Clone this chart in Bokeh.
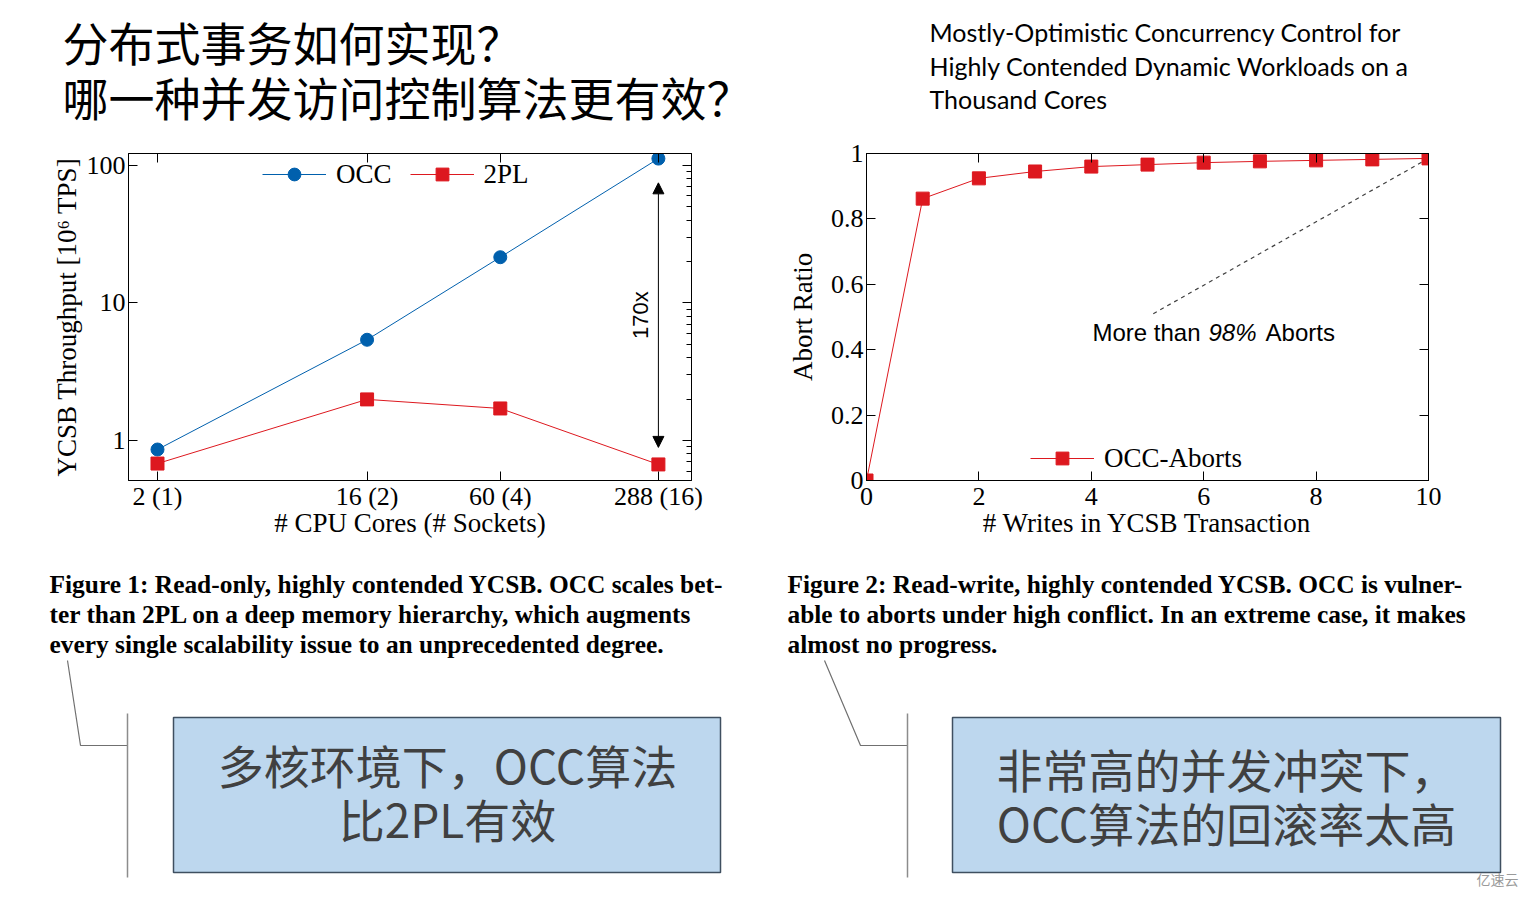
import math
from bokeh.plotting import figure
from bokeh.models import (Range1d, LogAxis, LinearAxis, FixedTicker, LogTicker,
                          CustomJSTickFormatter, Legend, LegendItem, Arrow, NormalHead,
                          Label, ColumnDataSource, Spacer)
from bokeh.layouts import column, row
from bokeh.embed import file_html
from bokeh.resources import INLINE
from bokeh.core.properties import value

# ---------------- data ----------------
cores = [2, 16, 60, 288]
core_labels = ["2 (1)", "16 (2)", "60 (4)", "288 (16)"]
occ_tput = [0.86, 5.4, 21.5, 112]
tpl_tput = [0.68, 1.99, 1.71, 0.67]
tput_ticks = [1, 10, 100]

writes = [0, 1, 2, 3, 4, 5, 6, 7, 8, 9, 10]
occ_aborts = [0.0, 0.862, 0.924, 0.945, 0.960, 0.966, 0.972, 0.976, 0.979, 0.982, 0.985]
write_ticks = [0, 2, 4, 6, 8, 10]
ratio_ticks = [0, 0.2, 0.4, 0.6, 0.8, 1]

title_cn = ["分布式事务如何实现？", "哪一种并发访问控制算法更有效？"]
title_en = ["Mostly-Optimistic Concurrency Control for",
            "Highly Contended Dynamic Workloads on a",
            "Thousand Cores"]
caption1 = ["Figure 1:  Read-only, highly contended YCSB. OCC scales bet-",
            "ter than 2PL on a deep memory hierarchy, which augments",
            "every single scalability issue to an unprecedented degree."]
caption2 = ["Figure 2:  Read-write, highly contended YCSB. OCC is vulner-",
            "able to aborts under high conflict. In an extreme case, it makes",
            "almost no progress."]
box1_text = ["多核环境下，OCC算法", "比2PL有效"]
box2_text = ["非常高的并发冲突下，", "OCC算法的回滚率太高"]

BLUE = "#0060ad"
RED = "#dd181f"
SERIF = "Liberation Serif"
SANS = "Liberation Sans"
CJK = "Noto Sans CJK SC"

fmt = CustomJSTickFormatter(code="return String(tick)")


def style_axis(ax, labels=True, standoff=3):
    ax.axis_line_color = "black"
    ax.major_tick_line_color = "black"
    ax.major_tick_in = 9
    ax.major_tick_out = 0
    ax.minor_tick_in = 0
    ax.minor_tick_out = 0
    ax.major_label_text_font = SERIF
    ax.major_label_text_color = "black"
    ax.axis_label_text_font = SERIF
    ax.axis_label_text_font_style = "normal"
    ax.axis_label_text_font_size = "27px"
    ax.axis_label_text_color = "black"
    if labels:
        ax.major_label_text_font_size = "26px"
        ax.major_label_standoff = standoff
    else:
        ax.major_label_text_font_size = "1px"
        ax.major_label_text_alpha = 0
        ax.major_label_standoff = 0


def blank(width, height):
    f = figure(width=width, height=height, x_range=Range1d(0, width), y_range=Range1d(height, 0),
               x_axis_type=None, y_axis_type=None, output_backend="svg", toolbar_location=None,
               min_border=0)
    f.grid.visible = False
    f.outline_line_color = None
    f.background_fill_color = "white"
    f.border_fill_color = "white"
    return f


# ---------------- top titles ----------------
top = blank(1518, 120)
top.text(x=[54, 54], y=[32, 87], text=title_cn, text_font=value(CJK), text_font_size="46px",
         text_baseline="middle", text_color="black")
top.text(x=[921, 921, 921], y=[23, 57, 90], text=title_en, text_font=value("Lato"),
         text_font_size="25px", text_baseline="middle", text_color="black")

# ---------------- chart 1 ----------------
p1 = figure(width=752, height=420, x_axis_type="log", y_axis_type="log",
            x_range=Range1d(1.5, 400), y_range=Range1d(0.512, 122),
            output_backend="svg", toolbar_location=None,
            min_border_left=120, min_border_right=69, min_border_top=25, min_border_bottom=68)
p1.grid.visible = False
p1.outline_line_color = "black"
p1.outline_line_width = 1

src_occ = ColumnDataSource(dict(x=cores, y=occ_tput))
src_2pl = ColumnDataSource(dict(x=cores, y=tpl_tput))
l_occ = p1.line("x", "y", source=src_occ, line_color=BLUE, line_width=1)
s_occ = p1.scatter("x", "y", source=src_occ, marker="circle", size=13, color=BLUE)
l_2pl = p1.line("x", "y", source=src_2pl, line_color=RED, line_width=1)
s_2pl = p1.scatter("x", "y", source=src_2pl, marker="square", size=13, color=RED)

xa = p1.xaxis[0]
xa.ticker = FixedTicker(ticks=cores)
xa.major_label_overrides = dict(zip(cores, core_labels))
xa.axis_label = "# CPU Cores (# Sockets)"
xa.axis_label_standoff = -6
style_axis(xa, standoff=1)
ya = p1.yaxis[0]
ya.ticker = FixedTicker(ticks=tput_ticks)
ya.formatter = fmt
ya.axis_label = "YCSB Throughput [10⁶ TPS]"
ya.axis_label_standoff = 2
style_axis(ya)

top_ax1 = LogAxis(ticker=FixedTicker(ticks=cores))
style_axis(top_ax1, labels=False)
p1.add_layout(top_ax1, "above")
right_ax1 = LogAxis(ticker=LogTicker(num_minor_ticks=10))
style_axis(right_ax1, labels=False)
right_ax1.minor_tick_in = 5
right_ax1.minor_tick_line_color = "black"
p1.add_layout(right_ax1, "right")

head = dict(size=11, fill_color="black", line_color="black")
p1.add_layout(Arrow(start=NormalHead(**head), end=NormalHead(**head),
                    x_start=cores[-1], y_start=occ_tput[-1] / 1.5,
                    x_end=cores[-1], y_end=tpl_tput[-1] * 1.33,
                    line_color="black", line_width=1))
p1.add_layout(Label(x=cores[-1], y=math.sqrt(occ_tput[-1] / 1.5 * tpl_tput[-1] * 1.33),
                    x_offset=-18, text="170x", angle=math.pi / 2, text_align="center",
                    text_baseline="middle", text_font=SANS, text_font_size="22px",
                    text_color="black"))

leg1 = Legend(items=[LegendItem(label="OCC", renderers=[l_occ, s_occ]),
                     LegendItem(label="2PL", renderers=[l_2pl, s_2pl])],
              orientation="horizontal", location=(134, 290), glyph_width=64, glyph_height=32,
              label_text_font=SERIF, label_text_font_size="27px", label_text_color="black",
              label_standoff=10, spacing=18, padding=0, margin=0,
              background_fill_alpha=0, border_line_alpha=0)
p1.add_layout(leg1)

# ---------------- chart 2 ----------------
p2 = figure(width=766, height=420, x_range=Range1d(0, 10), y_range=Range1d(0, 1),
            output_backend="svg", toolbar_location=None,
            min_border_left=106, min_border_right=98, min_border_top=25, min_border_bottom=68)
p2.grid.visible = False
p2.outline_line_color = "black"
p2.outline_line_width = 1

src_ab = ColumnDataSource(dict(x=writes, y=occ_aborts))
p2.line(x=[writes[-1], 5.05], y=[occ_aborts[-1], 0.505], line_color="#404040",
        line_width=1.2, line_dash="4 4")
l_ab = p2.line("x", "y", source=src_ab, line_color=RED, line_width=1)
s_ab = p2.scatter("x", "y", source=src_ab, marker="square", size=13, color=RED)

xb = p2.xaxis[0]
xb.ticker = FixedTicker(ticks=write_ticks)
xb.formatter = fmt
xb.axis_label = "# Writes in YCSB Transaction"
xb.axis_label_standoff = 0
style_axis(xb, standoff=7)
yb = p2.yaxis[0]
yb.ticker = FixedTicker(ticks=ratio_ticks)
yb.formatter = fmt
yb.axis_label = "Abort Ratio"
yb.axis_label_standoff = 10
style_axis(yb)

top_ax2 = LinearAxis(ticker=FixedTicker(ticks=write_ticks))
style_axis(top_ax2, labels=False)
p2.add_layout(top_ax2, "above")
right_ax2 = LinearAxis(ticker=FixedTicker(ticks=ratio_ticks))
style_axis(right_ax2, labels=False)
p2.add_layout(right_ax2, "right")

for txt, xx, style in [("More than", 4.02, "normal"), ("98%", 6.085, "italic"), ("Aborts", 7.1, "normal")]:
    p2.add_layout(Label(x=xx, y=0.4526, text=txt, text_font=SANS, text_font_size="24px",
                        text_font_style=style, text_baseline="middle", text_align="left",
                        text_color="black"))

leg2 = Legend(items=[LegendItem(label="OCC-Aborts", renderers=[l_ab, s_ab])],
              orientation="horizontal", location=(164, 6), glyph_width=64, glyph_height=32,
              label_text_font=SERIF, label_text_font_size="27px", label_text_color="black",
              label_standoff=10, padding=0, margin=0,
              background_fill_alpha=0, border_line_alpha=0)
p2.add_layout(leg2)

# ---------------- bottom ----------------
bot = blank(1518, 343)
bot.text(x=[41] * 3, y=[35, 65, 95], text=caption1, text_font=value(SERIF),
         text_font_style="bold", text_font_size="25.4px", text_baseline="middle", text_color="black")
bot.text(x=[779] * 3, y=[35, 65, 95], text=caption2, text_font=value(SERIF),
         text_font_style="bold", text_font_size="25.4px", text_baseline="middle", text_color="black")

CALL = "#707070"
bot.line(x=[59, 72, 119], y=[112, 197, 197], line_color=CALL, line_width=1.2)
bot.line(x=[119, 119], y=[165, 329], line_color="#8c8c8c", line_width=1.5)
bot.line(x=[816, 852, 899], y=[112, 197, 197], line_color=CALL, line_width=1.2)
bot.line(x=[899, 899], y=[165, 329], line_color="#8c8c8c", line_width=1.5)

bot.quad(left=[165, 944], right=[712, 1492], top=[169, 169], bottom=[324, 324],
         fill_color="#BDD7EE", line_color="#3F4F60", line_width=1.5)
bot.text(x=[439, 439], y=[215, 269], text=box1_text, text_font=value(CJK), text_font_size="46px",
         text_align="center", text_baseline="middle", text_color="#404040")
bot.text(x=[1218, 1218], y=[219, 273], text=box2_text, text_font=value(CJK), text_font_size="46px",
         text_align="center", text_baseline="middle", text_color="#404040")
bot.text(x=[1510], y=[330], text=["亿速云"], text_font=value(CJK), text_font_size="14px",
         text_align="right", text_baseline="middle", text_color="#9a9a9a")

content = column(top, row(p1, p2, spacing=0), bot, spacing=0)
layout = column(Spacer(height=8), row(Spacer(width=8), content, spacing=0), spacing=0)
open("out.html", "w").write(file_html(layout, INLINE))
